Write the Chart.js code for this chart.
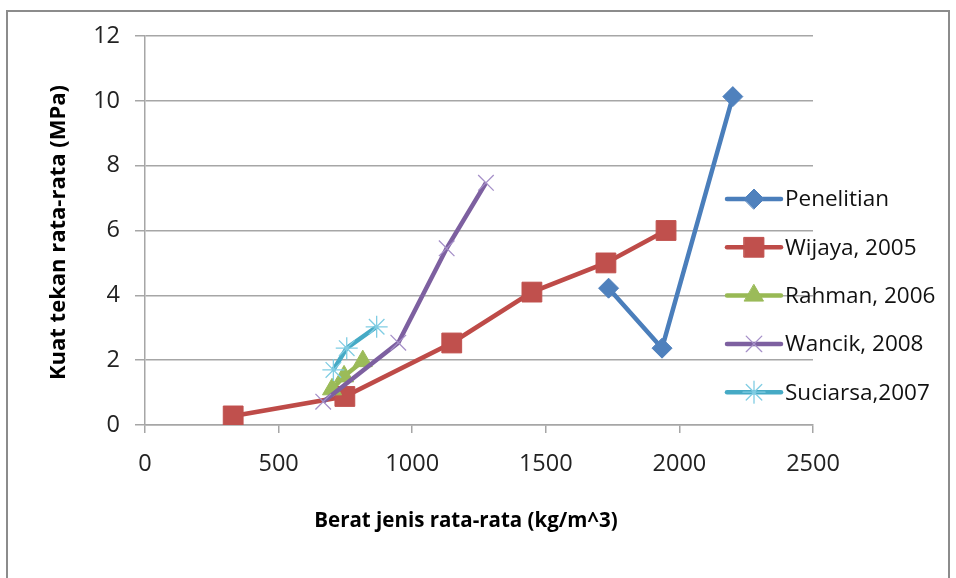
<!DOCTYPE html>
<html>
<head>
<meta charset="utf-8">
<script src="https://cdn.jsdelivr.net/npm/chart.js@4.4.0/dist/chart.umd.min.js"></script>
<style>
  html, body { margin: 0; padding: 0; background: #fff; overflow: hidden; }
</style>
</head>
<body>
<canvas id="myChart" width="956" height="578"></canvas>
<script>
// series data
const seriesNames = ["Penelitian", "Wijaya, 2005", "Rahman, 2006", "Wancik, 2008", "Suciarsa,2007"];
const penelitianX = [1735, 1935, 2200];
const penelitianY = [4.22, 2.37, 10.13];
const wijayaX = [330, 748, 1148, 1448, 1725, 1950];
const wijayaY = [0.28, 0.88, 2.53, 4.1, 5.0, 6.0];
const rahmanX = [700, 745, 815];
const rahmanY = [1.1, 1.5, 1.97];
const wancikX = [667, 948, 1129, 1276];
const wancikY = [0.72, 2.54, 5.45, 7.47];
const suciarsaX = [705, 755, 867];
const suciarsaY = [1.7, 2.37, 3.03];

const xTicks = [0, 500, 1000, 1500, 2000, 2500];
const yTicks = [0, 2, 4, 6, 8, 10, 12];

function toPoints(xs, ys) {
    return xs.map((x, i) => ({ x: x, y: ys[i] }));
}

function makeSeries(name, xs, ys, style) {
    return {
        label: name,
        data: toPoints(xs, ys),
        showLine: true,
        borderColor: style.line,
        borderWidth: 4.5,
        pointStyle: style.marker,
        pointRadius: style.size,
        pointBackgroundColor: style.fill,
        pointBorderColor: style.edge,
        pointBorderWidth: style.edgeWidth,
        order: style.order
    };
}

const datasets = [
    makeSeries(seriesNames[0], penelitianX, penelitianY, { line: "#4A7EBB", marker: "rectRot", size: 10, fill: "#4F81BD", edge: "#4F81BD", edgeWidth: 1, order: 5 }),
    makeSeries(seriesNames[1], wijayaX, wijayaY, { line: "#BE4B48", marker: "rect", size: 14, fill: "#C0504D", edge: "#C0504D", edgeWidth: 1, order: 4 }),
    makeSeries(seriesNames[2], rahmanX, rahmanY, { line: "#98B954", marker: "triangle", size: 11, fill: "#9BBB59", edge: "#9BBB59", edgeWidth: 1, order: 3 }),
    makeSeries(seriesNames[3], wancikX, wancikY, { line: "#7D60A0", marker: "crossRot", size: 11, fill: "#A08CC4", edge: "#A58FC8", edgeWidth: 1.3, order: 2 }),
    makeSeries(seriesNames[4], suciarsaX, suciarsaY, { line: "#46AAC5", marker: "star", size: 11, fill: "#86D0E4", edge: "#80CDE3", edgeWidth: 1.3, order: 1 })
];

// frame, axis titles and the Excel style legend
const decorations = {
    id: "decorations",
    beforeDraw(chart) {
        const ctx = chart.ctx;
        ctx.save();
        ctx.fillStyle = "#fff";
        ctx.fillRect(0, 0, chart.width, chart.height);
        ctx.strokeStyle = "#8c8c8c";
        ctx.lineWidth = 2;
        ctx.beginPath();
        ctx.moveTo(7, 600);
        ctx.lineTo(7, 11);
        ctx.lineTo(949, 11);
        ctx.lineTo(949, 600);
        ctx.stroke();
        ctx.restore();
    },
    afterDraw(chart) {
        const ctx = chart.ctx;
        const area = chart.chartArea;
        ctx.save();
        ctx.fillStyle = "#000";
        ctx.textAlign = "center";
        ctx.textBaseline = "middle";
        ctx.font = "bold 20.5px 'Open Sans'";
        ctx.fillText("Berat jenis rata-rata (kg/m^3)", 466, 521);
        ctx.font = "bold 22px 'Open Sans'";
        ctx.translate(59, (area.top + area.bottom) / 2 + 2);
        ctx.rotate(-Math.PI / 2);
        ctx.fillText("Kuat tekan rata-rata (MPa)", 0, 0);
        ctx.restore();

        ctx.save();
        ctx.font = "22.5px 'Open Sans'";
        ctx.textBaseline = "middle";
        ctx.textAlign = "left";
        chart.data.datasets.forEach((ds, i) => {
            const y = 199 + i * 48.3;
            ctx.strokeStyle = ds.borderColor;
            ctx.lineWidth = 4.5;
            ctx.lineCap = "round";
            ctx.beginPath();
            ctx.moveTo(727, y);
            ctx.lineTo(781, y);
            ctx.stroke();
            ctx.fillStyle = ds.pointBackgroundColor;
            ctx.strokeStyle = ds.pointBorderColor;
            ctx.lineWidth = ds.pointBorderWidth;
            Chart.helpers.drawPoint(ctx, { pointStyle: ds.pointStyle, radius: ds.pointRadius, rotation: 0, borderWidth: ds.pointBorderWidth }, 754, y);
            ctx.fillStyle = "#111";
            ctx.fillText(ds.label, 785, y + 1);
        });
        ctx.restore();
    }
};

const gridGrey = "#a6a6a6";
const ctx = document.getElementById("myChart").getContext("2d");
const myChart = new Chart(ctx, {
    type: "scatter",
    data: { datasets: datasets },
    plugins: [decorations],
    options: {
        responsive: false,
        animation: false,
        layout: { padding: { top: 36, right: 143, bottom: 0, left: 0 } },
        plugins: {
            legend: { display: false },
            tooltip: { enabled: false }
        },
        scales: {
            x: {
                type: "linear",
                min: xTicks[0],
                max: xTicks[xTicks.length - 1],
                afterBuildTicks: (axis) => { axis.ticks = xTicks.map(v => ({ value: v })); },
                afterFit: (axis) => { axis.height = 153; },
                grid: { drawOnChartArea: false, drawTicks: true, tickLength: 8, color: gridGrey, lineWidth: 1.5 },
                border: { color: gridGrey, width: 1.5 },
                ticks: { color: "#222", padding: 17, font: { family: "Open Sans", size: 23.5 }, callback: (v) => String(v) }
            },
            y: {
                type: "linear",
                min: yTicks[0],
                max: yTicks[yTicks.length - 1],
                afterBuildTicks: (axis) => { axis.ticks = yTicks.map(v => ({ value: v })); },
                afterFit: (axis) => { axis.width = 145; },
                grid: { color: gridGrey, lineWidth: 1.5, tickLength: 10 },
                border: { color: gridGrey, width: 1.5 },
                ticks: { color: "#222", padding: 15, font: { family: "Open Sans", size: 23.5 }, callback: (v) => String(v) }
            }
        }
    }
});
</script>
</body>
</html>
